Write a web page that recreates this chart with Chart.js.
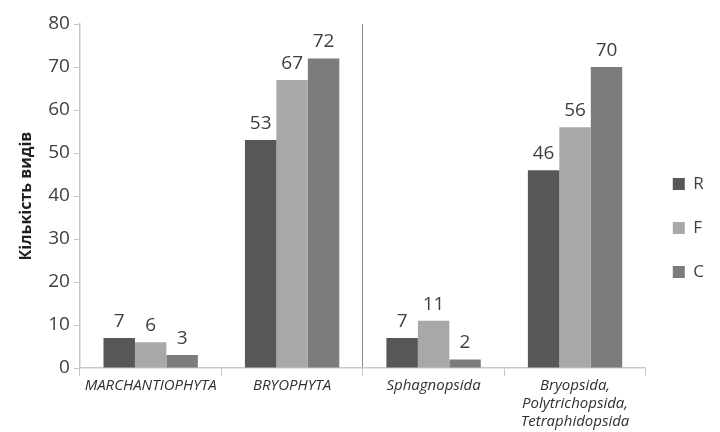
<!DOCTYPE html>
<html>
<head>
<meta charset="utf-8">
<script src="https://cdn.jsdelivr.net/npm/chart.js@4"></script>
<style>
  html, body { margin: 0; padding: 0; background: #fff; }
  #wrap { width: 720px; height: 432px; }
</style>
</head>
<body>
<div id="wrap"><canvas id="c"></canvas></div>
<script>
var categories = ['MARCHANTIOPHYTA', 'BRYOPHYTA', 'Sphagnopsida', ['Bryopsida,', 'Polytrichopsida,', 'Tetraphidopsida']];
var seriesNames = ['R', 'F', 'C'];
var valuesR = [7, 53, 7, 46];
var valuesF = [6, 67, 11, 56];
var valuesC = [3, 72, 2, 70];
var yTicks = [0, 10, 20, 30, 40, 50, 60, 70, 80];

var colors = ['#575757', '#a8a8a8', '#7c7c7c'];

// numbers above the bars
var barLabels = {
  id: 'barLabels',
  afterDatasetsDraw: function(chart) {
    var ctx = chart.ctx;
    ctx.save();
    ctx.font = '19px "Open Sans", sans-serif';
    ctx.fillStyle = '#404040';
    ctx.textAlign = 'center';
    ctx.textBaseline = 'bottom';
    chart.data.datasets.forEach(function(ds, i) {
      var meta = chart.getDatasetMeta(i);
      meta.data.forEach(function(bar, j) {
        ctx.fillText(ds.data[j], bar.x, bar.y - 7);
      });
    });
    ctx.restore();
  }
};

new Chart(document.getElementById('c'), {
  type: 'bar',
  data: {
    labels: categories,
    datasets: [
      { label: seriesNames[0], data: valuesR, backgroundColor: colors[0] },
      { label: seriesNames[1], data: valuesF, backgroundColor: colors[1] },
      { label: seriesNames[2], data: valuesC, backgroundColor: colors[2] }
    ]
  },
  options: {
    responsive: true,
    maintainAspectRatio: false,
    animation: false,
    layout: { padding: { top: 24, right: 6, left: 13, bottom: 0 } },
    datasets: { bar: { categoryPercentage: 0.667, barPercentage: 1.0 } },
    plugins: {
      legend: {
        position: 'right',
        align: 'center',
        labels: {
          boxWidth: 12,
          boxHeight: 12,
          padding: 27,
          color: '#404040',
          font: { size: 17, family: '"Open Sans", sans-serif' }
        }
      },
      tooltip: { enabled: false },
      title: { display: false }
    },
    scales: {
      x: {
        offset: true,
        grid: {
          offset: true,
          drawOnChartArea: true,
          color: function(c) { return c.index === 2 ? '#8a8a8a' : 'rgba(0,0,0,0)'; },
          tickColor: '#c8c8c8',
          tickLength: 8
        },
        border: { color: '#c8c8c8', width: 1.5 },
        ticks: {
          color: '#303030',
          maxRotation: 0,
          autoSkip: false,
          padding: 1,
          font: { size: 15, style: 'italic', family: '"Open Sans", sans-serif' }
        }
      },
      y: {
        min: 0,
        max: 80,
        afterBuildTicks: function(axis) { axis.ticks = yTicks.map(function(v) { return { value: v }; }); },
        grid: { drawOnChartArea: false, tickColor: '#c8c8c8', tickLength: 6 },
        border: { color: '#c8c8c8', width: 1.5 },
        ticks: {
          color: '#404040',
          padding: 4,
          font: { size: 19, family: '"Open Sans", sans-serif' }
        },
        title: {
          display: true,
          text: 'Кількість видів',
          color: '#202020',
          font: { size: 16, weight: 'bold', family: '"Open Sans", sans-serif' },
          padding: { bottom: 8 }
        }
      }
    }
  },
  plugins: [barLabels]
});
</script>
</body>
</html>
